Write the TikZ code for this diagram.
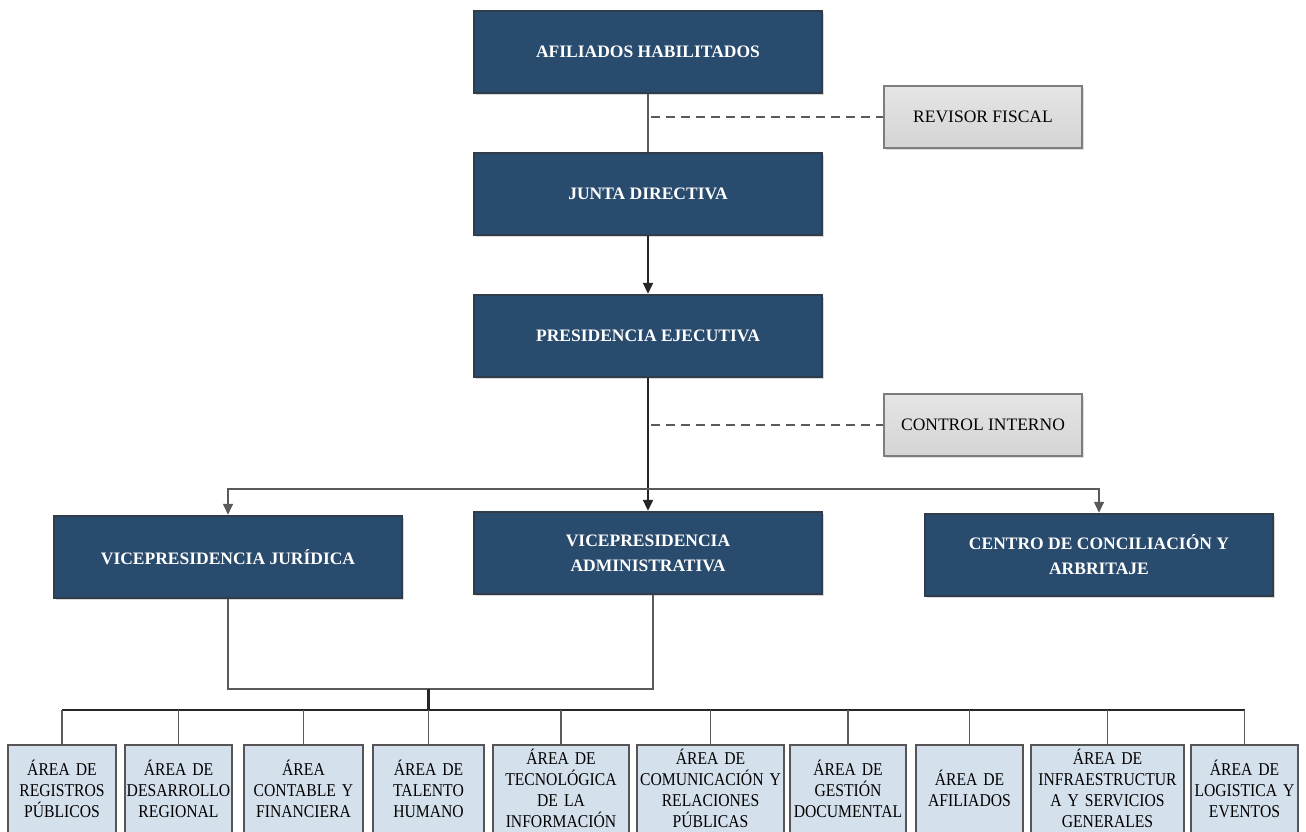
\documentclass[tikz,border=0pt]{standalone}
\usepackage{fontspec}
\setmainfont{Liberation Serif}
\newfontfamily\condfont[FakeStretch=0.87,WordSpace=0.8]{Liberation Serif}
\usetikzlibrary{shadows,arrows.meta}
\definecolor{navyfill}{RGB}{41,75,109}
\definecolor{navyline}{RGB}{48,60,74}
\definecolor{grayfill}{RGB}{212,212,212}
\definecolor{grayline}{RGB}{125,125,125}
\definecolor{bluefill}{RGB}{212,224,236}
\definecolor{blueline}{RGB}{85,85,85}
\definecolor{conn}{RGB}{90,90,90}
\tikzset{
  darkbox/.style={draw=navyline, line width=2.5pt, fill=navyfill, minimum width=348pt, minimum height=82pt,
    text=white, font=\fontsize{17.5}{25}\selectfont\bfseries, align=center, inner sep=2pt,
    drop shadow={shadow xshift=2pt, shadow yshift=-2pt, fill=black!30}},
  graybox/.style={draw=grayline, line width=1.5pt, top color=grayfill!60, bottom color=grayfill, minimum width=198pt, minimum height=62pt,
    text=black, font=\fontsize{17.5}{22}\selectfont, align=center,
    drop shadow={shadow xshift=2pt, shadow yshift=-2pt, fill=black!25}},
  areabox/.style={draw=blueline, line width=1.5pt, fill=bluefill, minimum height=88pt, anchor=north,
    text=black, font=\condfont\fontsize{18}{21}\selectfont, align=center, inner sep=1pt},
  thin/.style={draw=conn, line width=1.6pt},
  thick/.style={draw=black!85, line width=2.3pt},
  dashedline/.style={draw=conn, line width=2pt, dash pattern=on 9pt off 6pt},
  tip/.style={-{Triangle[width=10pt,length=11pt]}}
}
\begin{document}
\begin{tikzpicture}[x=1pt,y=-1pt]
\useasboundingbox (0,0) rectangle (1306,831);
\clip (0,0) rectangle (1306,831);

\node[darkbox] (af) at (648,52) {AFILIADOS HABILITADOS};
\node[graybox] (rf) at (983,117) {REVISOR FISCAL};
\node[darkbox] (jd) at (648,194) {JUNTA DIRECTIVA};
\node[darkbox] (pe) at (648,336) {PRESIDENCIA EJECUTIVA};
\node[graybox] (ci) at (983,425) {CONTROL INTERNO};
\node[darkbox] (vj) at (228,557) {VICEPRESIDENCIA JURÍDICA};
\node[darkbox] (va) at (648,553) {VICEPRESIDENCIA\\ADMINISTRATIVA};
\node[darkbox] (cc) at (1099,555) {CENTRO DE CONCILIACIÓN Y\\ARBRITAJE};

\node[areabox, minimum width=108pt, text width=106pt] (b1) at (62,744) {ÁREA DE\\REGISTROS\\PÚBLICOS};
\node[areabox, minimum width=107pt, text width=105pt] (b2) at (178.5,744) {ÁREA DE\\DESARROLLO\\REGIONAL};
\node[areabox, minimum width=119pt, text width=117pt] (b3) at (303.5,744) {ÁREA\\CONTABLE Y\\FINANCIERA};
\node[areabox, minimum width=111pt, text width=109pt] (b4) at (428.5,744) {ÁREA DE\\TALENTO\\HUMANO};
\node[areabox, minimum width=136pt, text width=134pt] (b5) at (561,744) {ÁREA DE\\TECNOLÓGICA\\DE LA\\INFORMACIÓN};
\node[areabox, minimum width=147pt, text width=145pt] (b6) at (710.5,744) {ÁREA DE\\COMUNICACIÓN Y\\RELACIONES\\PÚBLICAS};
\node[areabox, minimum width=116pt, text width=114pt] (b7) at (848,744) {ÁREA DE\\GESTIÓN\\DOCUMENTAL};
\node[areabox, minimum width=107pt, text width=105pt] (b8) at (969.5,744) {ÁREA DE\\AFILIADOS};
\node[areabox, minimum width=153pt, text width=151pt] (b9) at (1107.5,744) {ÁREA DE\\INFRAESTRUCTUR\\A Y SERVICIOS\\GENERALES};
\node[areabox, minimum width=107pt, text width=105pt] (b10) at (1244.5,744) {ÁREA DE\\LOGISTICA Y\\EVENTOS};

% top connectors
\draw[thin] (af.south) -- (jd.north);
\draw[dashedline] ([xshift=3pt]af.south |- rf.west) -- (rf.west);
\draw[thick, tip] (jd.south) -- (pe.north);
\draw[thick, tip] (pe.south) -- (va.north);
\draw[dashedline] ([xshift=3pt]pe.south |- ci.west) -- (ci.west);

\coordinate (hy) at (648,489);
\draw[thin, tip] (hy) -| (vj.north);
\draw[thin, tip] (hy) -| (cc.north);

% bracket
\coordinate (bj) at (428.5,689);
\coordinate (busy) at (428.5,710);
\draw[thin] (vj.south) |- (bj) -| ([xshift=5pt]va.south);
\draw[thick] (bj) -- (busy);
\draw[thick] (b1.north |- busy) -- (b10.north |- busy);
\foreach \b in {b1,b2,b3,b4,b5,b6,b7,b8,b9,b10}{
  \draw[thin] (\b.north) -- (\b.north |- busy);
}
\end{tikzpicture}
\end{document}
